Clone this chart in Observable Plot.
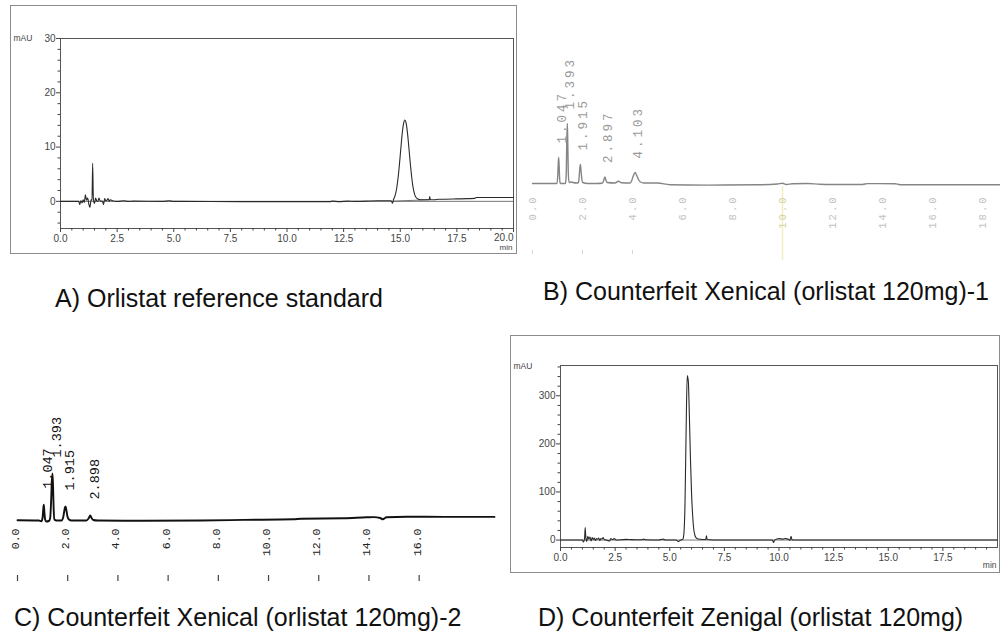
<!DOCTYPE html>
<html><head><meta charset="utf-8">
<script src="https://cdn.jsdelivr.net/npm/d3@7"></script>
<script src="https://cdn.jsdelivr.net/npm/@observablehq/plot@0.6"></script>
<style>
html,body{margin:0;padding:0;background:#fff;}
#fig{position:relative;width:1000px;height:641px;overflow:hidden;background:#fff;font-family:"Liberation Sans",Arial,sans-serif;}
.panel{position:absolute;}
.box{position:absolute;border:1px solid #8c8c8c;box-sizing:border-box;}
.cap{position:absolute;font-size:25px;line-height:25px;color:#111;white-space:nowrap;}
#pB g[font-size="12.5"] text{letter-spacing:3px;}
#pB g[font-size="10.5"] text{letter-spacing:2px;}
</style></head><body>
<div id="fig">
  <div class="box" style="left:10px;top:5px;width:507px;height:249px"></div>
  <div class="box" style="left:510px;top:335px;width:490px;height:238px"></div>
  <div id="pA" class="panel" style="left:10px;top:5px;width:505px;height:249px"></div>
  <div id="pB" class="panel" style="left:520px;top:0px;width:480px;height:260px"></div>
  <div id="pC" class="panel" style="left:0px;top:360px;width:500px;height:240px"></div>
  <div id="pD" class="panel" style="left:510px;top:335px;width:489px;height:237px"></div>
  <div class="cap" style="left:55px;top:286px">A) Orlistat reference standard</div>
  <div class="cap" style="left:543px;top:279px">B) Counterfeit Xenical (orlistat 120mg)-1</div>
  <div class="cap" style="left:14px;top:605px">C) Counterfeit Xenical (orlistat 120mg)-2</div>
  <div class="cap" style="left:538px;top:605px">D) Counterfeit Zenigal (orlistat 120mg)</div>
</div>
<script>
// ---------- Panel A: Orlistat reference standard (min, mAU) ----------
const aTime = [0, 0.8, 0.85, 0.9, 0.95, 1.0, 1.05, 1.1, 1.15, 1.2, 1.25, 1.3, 1.35, 1.39, 1.42, 1.45, 1.5, 1.55, 1.6, 1.65, 1.7, 1.75, 1.85, 1.9, 1.95, 2.0, 2.05, 2.1, 2.15, 2.2, 2.3, 2.5, 2.8, 3.0, 3.2, 4.5, 4.8, 5.0, 5.3, 8.0, 11.9, 12.0, 12.3, 12.7, 13.0, 14.0, 14.6, 14.66, 14.7, 14.75, 14.8, 14.85, 14.9, 14.95, 15.0, 15.05, 15.1, 15.15, 15.2, 15.25, 15.3, 15.35, 15.4, 15.45, 15.5, 15.55, 15.6, 15.65, 15.7, 15.8, 15.9, 16.0, 16.2, 16.28, 16.3, 16.33, 16.5, 16.7, 17.0, 17.5, 18.0, 18.3, 18.35, 19.0, 20.0];
const aSignal = [0, 0, -0.6, 0.1, -0.3, 0.3, -0.2, 1.2, 0.2, 0.6, -0.5, -1.1, 0.3, 0.2, 7.0, 0.5, -0.4, 0.6, 0.1, 0.0, 0.6, 0.1, 0.0, -0.6, 0.5, 0.1, 0.2, 0.5, 0.0, 0.3, 0.1, 0.0, 0.1, 0.0, 0.05, 0.0, 0.1, 0.0, 0.0, -0.05, -0.05, 0.05, -0.05, 0.05, 0.0, 0.1, 0.1, -0.35, 0.3, 0.8, 1.5, 2.6, 4.2, 6.2, 8.5, 10.9, 13.0, 14.4, 15.0, 14.6, 13.3, 11.3, 9.0, 6.7, 4.7, 3.0, 1.9, 1.1, 0.7, 0.4, 0.3, 0.3, 0.3, 0.3, 0.9, 0.3, 0.3, 0.4, 0.4, 0.45, 0.5, 0.55, 0.7, 0.7, 0.7];
const aBaseTime = [14.72, 16.3];
const aBaseSignal = [0.05, 0.3];
const aXTicks = [0, 2.5, 5, 7.5, 10, 12.5, 15, 17.5];
const aXLastTick = [20];
const aYTicks = [0, 10, 20, 30];

// ---------- Panel B: Counterfeit Xenical -1 (min, response) ----------
const bTime = [0, 0.9, 0.98, 1.01, 1.03, 1.047, 1.065, 1.085, 1.11, 1.2, 1.3, 1.32, 1.35, 1.37, 1.393, 1.41, 1.43, 1.46, 1.55, 1.62, 1.75, 1.84, 1.87, 1.895, 1.915, 1.94, 1.97, 2.01, 2.2, 2.6, 2.8, 2.86, 2.897, 2.93, 2.98, 3.3, 3.44, 3.56, 3.9, 3.97, 4.03, 4.103, 4.17, 4.24, 4.32, 4.45, 5.0, 5.5, 7.0, 9.0, 9.8, 10.0, 10.15, 10.4, 11.0, 11.5, 12.0, 13.2, 13.4, 14.5, 14.7, 18.72];
const bSignal = [0, 0, 0, 8, 20, 26, 18, 5, 0, 0, 0, 0.5, 10, 40, 60, 42, 12, 1, 1.5, 1, 0.5, 1, 8, 16, 19, 13, 5, 1, 0, 0, 0.5, 4, 6.5, 4, 1, 0.5, 2.3, 0.8, 0.5, 3, 7.5, 11, 8, 4, 1.5, 0.5, 0.5, -1.2, -1.6, -1.3, -0.5, 0.3, -1, -0.2, 0, -0.8, -1, -1, -0.1, -0.2, -1.2, -1.2];
const bPeakTime = [1.047, 1.393, 1.915, 2.897, 4.103];
const bPeakHeight = [26, 60, 19, 6.5, 11];
const bPeakLabel = ["1.047", "1.393", "1.915", "2.897", "4.103"];
const bXTicks = [0, 2, 4, 6, 8, 10, 12, 14, 16, 18];
const bTickMarks = [0, 2, 4];

// ---------- Panel C: Counterfeit Xenical -2 (min, response) ----------
const cTime = [0, 0.85, 0.95, 1.0, 1.025, 1.047, 1.07, 1.1, 1.15, 1.25, 1.3, 1.34, 1.37, 1.393, 1.415, 1.44, 1.47, 1.55, 1.75, 1.82, 1.86, 1.89, 1.915, 1.95, 1.99, 2.05, 2.15, 2.75, 2.83, 2.898, 2.95, 3.02, 3.2, 5.0, 7.3, 9.0, 11.0, 11.3, 13.0, 13.9, 14.2, 14.45, 14.55, 14.7, 15.5, 17.0, 19.0];
const cSignal = [0.3, 0, -0.8, 3, 11, 15.7, 9, 1, -1, -0.5, 2, 20, 40, 47, 35, 12, 1, 0, 0, 3, 9, 13, 14, 10, 4, 1, 0, 0, 2, 5, 2.5, 0.5, 0, -0.3, 0, 0.6, 1.2, 1.8, 2.2, 3.2, 3.4, 2.5, 1.2, 3.3, 3.8, 3.6, 3.6];
const cPeakTime = [1.047, 1.393, 1.915, 2.898];
const cPeakHeight = [15.7, 47, 14, 5];
const cPeakLabel = ["1.047", "1.393", "1.915", "2.898"];
const cXTicks = [0, 2, 4, 6, 8, 10, 12, 14, 16];

// ---------- Panel D: Counterfeit Zenigal (min, mAU) ----------
const dTime = [0, 1.0, 1.05, 1.1, 1.13, 1.16, 1.2, 1.25, 1.3, 1.35, 1.4, 1.45, 1.5, 1.55, 1.6, 1.65, 1.7, 1.75, 1.8, 1.85, 1.9, 1.95, 2.0, 2.1, 2.25, 2.3, 2.4, 2.45, 2.5, 2.55, 3.0, 3.2, 3.5, 3.7, 3.8, 3.9, 4.5, 4.7, 4.8, 5.3, 5.4, 5.5, 5.6, 5.65, 5.7, 5.75, 5.8, 5.85, 5.9, 5.95, 6.0, 6.05, 6.1, 6.15, 6.2, 6.3, 6.5, 6.65, 6.68, 6.71, 7.0, 9.7, 9.75, 9.8, 9.9, 10.0, 10.2, 10.3, 10.45, 10.5, 10.55, 10.6, 11.0, 20.0];
const dSignal = [0, 0, -4, 3, 26, 5, -3, 8, 2, 6, -2, 5, 1, 4, -1, 3, 2, 4, -1, 3, 2, 5, 1, 0, -2, 3, 1, 3, 2, 0, 1.5, 1, 0.5, 0.5, 2, 0.5, 0, 2, 0, 0, -3, 0, 2, 15, 80, 230, 342, 330, 255, 165, 95, 50, 22, 10, 5, 2, 1, 1, 9, 1, 0, 0, -5, 0, 2, 3, 2, 3, 1, -1, 8, 0, 0, 0];
const dXTicks = [0, 2.5, 5, 7.5, 10, 12.5, 15, 17.5];
const dYTicks = [0, 100, 200, 300];

// ---------- helpers ----------
const toRows = (ts, vs) => ts.map((t, i) => ({t, v: vs[i]}));
const fmt1 = d3.format(".1f");
const minorX = d3.range(0, 20.01, 0.5).filter(d => d % 2.5 !== 0);
const axisColor = "#444";

// Panel A
const chartA = Plot.plot({
  width: 505, height: 249,
  marginLeft: 50, marginRight: 2, marginTop: 33, marginBottom: 26,
  x: {domain: [0, 20], label: null},
  y: {domain: [-5, 30], label: null},
  style: {fontFamily: "Liberation Sans, Arial, sans-serif", fontSize: "10px", color: axisColor, background: "transparent"},
  marks: [
    Plot.frame({stroke: "#555"}),
    Plot.ruleY([0], {stroke: "#555", strokeWidth: 0.8}),
    Plot.axisX({ticks: aXTicks, tickFormat: fmt1, tickSize: 4, tickPadding: 2}),
    Plot.axisX({ticks: aXLastTick, tickFormat: () => "", tickSize: 4}),
    Plot.axisX({ticks: minorX, tickFormat: () => "", tickSize: 2.5}),
    Plot.text(aXLastTick, {x: d => d, text: d => fmt1(d), frameAnchor: "bottom", textAnchor: "end", lineAnchor: "top", dy: 5, fill: axisColor}),
    Plot.axisY({ticks: aYTicks, tickSize: 4, tickPadding: 1}),
    Plot.axisY({ticks: d3.range(-4, 30, 2).filter(d => d % 10 !== 0), tickFormat: () => "", tickSize: 2.5}),
    Plot.line(toRows(aBaseTime, aBaseSignal), {x: "t", y: "v", stroke: "#555", strokeWidth: 0.8}),
    Plot.line(toRows(aTime, aSignal), {x: "t", y: "v", stroke: "#2a2a2a", strokeWidth: 1.1, curve: "monotone-x"}),
    Plot.text(["mAU"], {text: d => d, frameAnchor: "top-left", textAnchor: "start", dx: -47, dy: -4, fontSize: 8.5, fill: axisColor}),
    Plot.text(["min"], {text: d => d, frameAnchor: "bottom-right", textAnchor: "end", dx: -1, dy: 21, fontSize: 8, fill: axisColor})
  ]
});
document.getElementById("pA").append(chartA);

// Panel B
const bPeaks = bPeakTime.map((t, i) => ({t, v: bPeakHeight[i], label: bPeakLabel[i]}));
const chartB = Plot.plot({
  width: 480, height: 260,
  marginLeft: 12, marginRight: 0, marginTop: 40, marginBottom: 77,
  x: {domain: [0, 18.72], axis: null},
  y: {domain: [0, 143], axis: null},
  style: {fontFamily: "Liberation Mono, monospace", background: "transparent"},
  marks: [
    Plot.ruleX([10], {y1: -3, y2: -77, stroke: "#f2edc4", strokeWidth: 1.5}),
    Plot.line(toRows(bTime, bSignal), {x: "t", y: "v", stroke: "#858585", strokeWidth: 1.4, curve: "monotone-x"}),
    Plot.text(bPeaks, {x: "t", y: "v", text: "label", rotate: -90, textAnchor: "start", dx: 3, dy: -14, fill: "#9a9a9a", fontSize: 12.5}),
    Plot.text(bXTicks.filter(d => d !== 10), {x: d => d, text: d => fmt1(d), frameAnchor: "bottom", rotate: -90, textAnchor: "end", dx: 3, dy: 12, fill: "#c2c2c2", fontSize: 10.5}),
    Plot.text([10], {x: d => d, text: d => fmt1(d), frameAnchor: "bottom", rotate: -90, textAnchor: "end", dx: 3, dy: 12, fill: "#d9d3a0", fontSize: 10.5}),
    Plot.ruleX(bTickMarks, {x: d => d, y1: -67, y2: -71, stroke: "#d6d6d6"})
  ]
});
document.getElementById("pB").append(chartB);

// Panel C
const cPeaks = cPeakTime.map((t, i) => ({t, v: cPeakHeight[i], label: cPeakLabel[i]}));
const chartC = Plot.plot({
  width: 500, height: 240,
  marginLeft: 17, marginRight: 0, marginTop: 40, marginBottom: 80,
  x: {domain: [0, 19.24], axis: null},
  y: {domain: [0, 120], axis: null},
  style: {fontFamily: "Liberation Mono, monospace", background: "transparent"},
  marks: [
    Plot.line(toRows(cTime, cSignal), {x: "t", y: "v", stroke: "#111", strokeWidth: 1.9, curve: "monotone-x"}),
    Plot.text(cPeaks, {x: "t", y: "v", text: "label", rotate: -90, textAnchor: "start", dx: 4, dy: -16, fill: "#111", fontSize: 13.5}),
    Plot.text(cXTicks, {x: d => d, text: d => fmt1(d), frameAnchor: "bottom", rotate: -90, textAnchor: "end", dx: 1.5, dy: 8, fill: "#222", fontSize: 11.5}),
    Plot.ruleX(cXTicks, {x: d => d, y1: -55, y2: -61, stroke: "#444", strokeWidth: 1.2})
  ]
});
document.getElementById("pC").append(chartC);

// Panel D
const chartD = Plot.plot({
  width: 489, height: 237,
  marginLeft: 50, marginRight: 2, marginTop: 30, marginBottom: 25,
  x: {domain: [0, 20], label: null},
  y: {domain: [-15.5, 363], label: null},
  style: {fontFamily: "Liberation Sans, Arial, sans-serif", fontSize: "10px", color: axisColor, background: "transparent"},
  marks: [
    Plot.frame({stroke: "#555"}),
    Plot.ruleY([0], {stroke: "#555", strokeWidth: 0.8}),
    Plot.axisX({ticks: dXTicks, tickFormat: fmt1, tickSize: 4, tickPadding: 2}),
    Plot.axisX({ticks: minorX, tickFormat: () => "", tickSize: 2.5}),
    Plot.axisY({ticks: dYTicks, tickSize: 4, tickPadding: 1}),
    Plot.axisY({ticks: d3.range(20, 361, 20).filter(d => d % 100 !== 0), tickFormat: () => "", tickSize: 2.5}),
    Plot.line(toRows(dTime, dSignal), {x: "t", y: "v", stroke: "#2a2a2a", strokeWidth: 1.1, curve: "monotone-x"}),
    Plot.text(["mAU"], {text: d => d, frameAnchor: "top-left", textAnchor: "start", dx: -47, dy: -3, fontSize: 8.5, fill: axisColor}),
    Plot.text(["min"], {text: d => d, frameAnchor: "bottom-right", textAnchor: "end", dx: -1, dy: 20, fontSize: 8.5, fill: axisColor})
  ]
});
document.getElementById("pD").append(chartD);
</script>
</body></html>
